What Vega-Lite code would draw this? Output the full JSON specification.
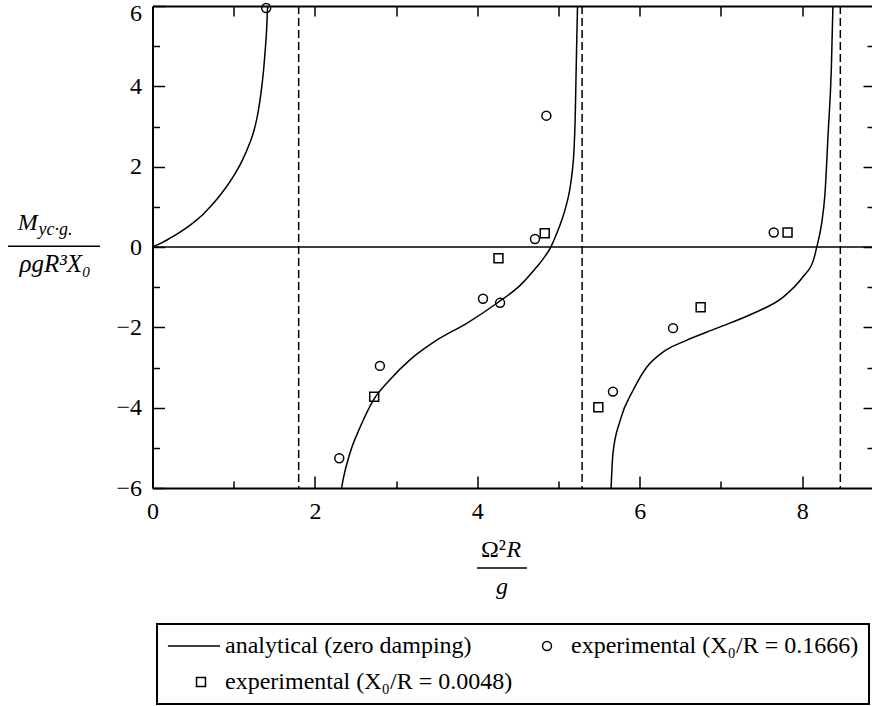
{
  "$schema": "https://vega.github.io/schema/vega-lite/v6.json",
  "width": 719.5,
  "height": 482,
  "autosize": "none",
  "padding": {"left": 152.5, "top": 6, "right": 0, "bottom": 218},
  "background": "white",
  "datasets": {
    "curve": [
      {"b": 1, "x": 0, "y": 0}, {"b": 1, "x": 0.1, "y": 0.09}, {"b": 1, "x": 0.2, "y": 0.2}, {"b": 1, "x": 0.3, "y": 0.32}, {"b": 1, "x": 0.4, "y": 0.45}, {"b": 1, "x": 0.5, "y": 0.6}, {"b": 1, "x": 0.6, "y": 0.77}, {"b": 1, "x": 0.7, "y": 0.98}, {"b": 1, "x": 0.8, "y": 1.21}, {"b": 1, "x": 0.9, "y": 1.47}, {"b": 1, "x": 1.0, "y": 1.77}, {"b": 1, "x": 1.1, "y": 2.13}, {"b": 1, "x": 1.2, "y": 2.6}, {"b": 1, "x": 1.25, "y": 2.9}, {"b": 1, "x": 1.3, "y": 3.35}, {"b": 1, "x": 1.34, "y": 3.9}, {"b": 1, "x": 1.37, "y": 4.45}, {"b": 1, "x": 1.39, "y": 4.95}, {"b": 1, "x": 1.405, "y": 5.4}, {"b": 1, "x": 1.42, "y": 6.1},
      {"b": 2, "x": 2.32, "y": -6.1}, {"b": 2, "x": 2.35, "y": -5.76}, {"b": 2, "x": 2.43, "y": -5.14}, {"b": 2, "x": 2.56, "y": -4.47}, {"b": 2, "x": 2.72, "y": -3.81}, {"b": 2, "x": 2.92, "y": -3.31}, {"b": 2, "x": 3.17, "y": -2.81}, {"b": 2, "x": 3.5, "y": -2.32}, {"b": 2, "x": 3.87, "y": -1.9}, {"b": 2, "x": 4.24, "y": -1.4}, {"b": 2, "x": 4.53, "y": -0.95}, {"b": 2, "x": 4.73, "y": -0.5}, {"b": 2, "x": 4.82, "y": -0.27}, {"b": 2, "x": 4.9, "y": -0.02}, {"b": 2, "x": 4.97, "y": 0.3}, {"b": 2, "x": 5.04, "y": 0.67}, {"b": 2, "x": 5.09, "y": 1.0}, {"b": 2, "x": 5.14, "y": 1.45}, {"b": 2, "x": 5.17, "y": 1.9}, {"b": 2, "x": 5.19, "y": 2.4}, {"b": 2, "x": 5.205, "y": 3.2}, {"b": 2, "x": 5.215, "y": 4.2}, {"b": 2, "x": 5.225, "y": 5.2}, {"b": 2, "x": 5.235, "y": 6.1},
      {"b": 3, "x": 5.645, "y": -6.1}, {"b": 3, "x": 5.67, "y": -5.14}, {"b": 3, "x": 5.76, "y": -4.31}, {"b": 3, "x": 5.92, "y": -3.56}, {"b": 3, "x": 6.09, "y": -2.98}, {"b": 3, "x": 6.29, "y": -2.61}, {"b": 3, "x": 6.58, "y": -2.32}, {"b": 3, "x": 6.95, "y": -2.02}, {"b": 3, "x": 7.4, "y": -1.65}, {"b": 3, "x": 7.77, "y": -1.24}, {"b": 3, "x": 8.01, "y": -0.74}, {"b": 3, "x": 8.14, "y": -0.32}, {"b": 3, "x": 8.18, "y": 0.0}, {"b": 3, "x": 8.24, "y": 0.59}, {"b": 3, "x": 8.28, "y": 1.3}, {"b": 3, "x": 8.32, "y": 2.83}, {"b": 3, "x": 8.36, "y": 4.49}, {"b": 3, "x": 8.38, "y": 6.1}
    ],
    "points": [
      {"series": "experimental (X₀/R = 0.1666)", "x": 1.40, "y": 5.95},
      {"series": "experimental (X₀/R = 0.1666)", "x": 2.30, "y": -5.26},
      {"series": "experimental (X₀/R = 0.1666)", "x": 2.80, "y": -2.96},
      {"series": "experimental (X₀/R = 0.1666)", "x": 4.07, "y": -1.29},
      {"series": "experimental (X₀/R = 0.1666)", "x": 4.28, "y": -1.39},
      {"series": "experimental (X₀/R = 0.1666)", "x": 4.71, "y": 0.2},
      {"series": "experimental (X₀/R = 0.1666)", "x": 4.85, "y": 3.27},
      {"series": "experimental (X₀/R = 0.1666)", "x": 5.67, "y": -3.6},
      {"series": "experimental (X₀/R = 0.1666)", "x": 6.41, "y": -2.02},
      {"series": "experimental (X₀/R = 0.1666)", "x": 7.65, "y": 0.36},
      {"series": "experimental (X₀/R = 0.0048)", "x": 2.73, "y": -3.73},
      {"series": "experimental (X₀/R = 0.0048)", "x": 4.26, "y": -0.28},
      {"series": "experimental (X₀/R = 0.0048)", "x": 4.83, "y": 0.34},
      {"series": "experimental (X₀/R = 0.0048)", "x": 5.49, "y": -3.99},
      {"series": "experimental (X₀/R = 0.0048)", "x": 6.75, "y": -1.5},
      {"series": "experimental (X₀/R = 0.0048)", "x": 7.82, "y": 0.36}
    ],
    "asymptotes": [{"x": 1.8}, {"x": 5.29}, {"x": 8.47}],
    "one": [{}]
  },
  "layer": [
    {
      "data": {"name": "asymptotes"},
      "mark": {"type": "rule", "color": "black", "strokeWidth": 1.5, "strokeDash": [8, 4]},
      "encoding": {
        "x": {"field": "x", "type": "quantitative", "axis": {"orient": "bottom", "values": [1, 3, 5, 7], "tickSize": -7, "labels": false, "domain": false, "title": null}}
      }
    },
    {
      "data": {"name": "one"},
      "mark": {"type": "rule", "color": "black", "strokeWidth": 1.5},
      "encoding": {
        "y": {"datum": 0, "type": "quantitative", "axis": {"orient": "left", "values": [-5, -3, -1, 1, 3, 5], "tickSize": -7, "labels": false, "domain": false, "title": null}}
      }
    },
    {
      "data": {"name": "curve"},
      "mark": {"type": "line", "color": "black", "strokeWidth": 1.5, "interpolate": "monotone", "clip": true},
      "encoding": {
        "x": {"field": "x", "type": "quantitative", "scale": {"domain": [0, 8.86], "nice": false, "zero": false}, "axis": {"orient": "bottom", "values": [0, 2, 4, 6, 8], "tickSize": -12, "labelPadding": 23, "title": null}},
        "y": {"field": "y", "type": "quantitative", "scale": {"domain": [-6, 6], "nice": false, "zero": false}, "axis": {"orient": "left", "values": [-6, -4, -2, 0, 2, 4, 6], "tickSize": -12, "labelPadding": 23, "title": null, "labelOffset": {"condition": {"test": "datum.value === 6", "value": 7}, "value": 0}}},
        "detail": {"field": "b", "type": "nominal"}
      }
    },
    {
      "data": {"name": "points"},
      "mark": {"type": "point", "filled": false, "color": "black", "strokeWidth": 1.5, "size": 80, "opacity": 1},
      "encoding": {
        "x": {"field": "x", "type": "quantitative", "axis": {"orient": "top", "values": [1, 2, 3, 4, 5, 6, 7, 8], "tickSize": -10, "labels": false, "title": null}},
        "y": {"field": "y", "type": "quantitative", "axis": {"orient": "right", "values": [-4, -2, 0, 2, 4], "tickSize": -9, "labels": false, "domain": false, "title": null}},
        "shape": {
          "field": "series", "type": "nominal",
          "scale": {"domain": ["analytical (zero damping)", "experimental (X₀/R = 0.1666)", "experimental (X₀/R = 0.0048)"], "range": ["M-7.4,0H4.25", "circle", "square"]},
          "legend": {
            "title": null, "orient": "none", "legendX": 4.5, "legendY": 618, "columns": 2, "direction": "horizontal",
            "padding": 10, "strokeColor": "black", "columnPadding": 0, "rowPadding": 12,
            "symbolSize": 80, "symbolStrokeWidth": 1.5, "symbolStrokeColor": "black", "symbolFillColor": "transparent", "symbolOffset": 22, "labelOffset": 12,
            "labelFont": "Liberation Serif", "labelFontSize": 24, "labelColor": "black", "labelLimit": 0
          }
        }
      }
    },
    {
      "data": {"name": "one"},
      "mark": {"type": "text", "text": "M", "font": "Liberation Serif", "fontStyle": "italic", "fontSize": 24, "align": "left", "baseline": "alphabetic", "color": "black"},
      "encoding": {
        "x": {"datum": -1.66, "type": "quantitative", "axis": null},
        "y": {"datum": 0.423, "type": "quantitative", "axis": {"orient": "right", "values": [-5, -3, -1, 1, 3, 5], "tickSize": -5, "labels": false, "domain": false, "title": null}}
      }
    },
    {
      "data": {"name": "one"},
      "mark": {"type": "text", "text": "yc·g.", "font": "Liberation Serif", "fontStyle": "italic", "fontSize": 18, "align": "left", "baseline": "alphabetic", "color": "black"},
      "encoding": {"x": {"datum": -1.405, "type": "quantitative", "axis": null}, "y": {"datum": 0.299, "type": "quantitative", "axis": null}}
    },
    {
      "data": {"name": "one"},
      "mark": {"type": "rule", "color": "black", "strokeWidth": 1.5},
      "encoding": {"x": {"datum": -1.78, "type": "quantitative", "axis": null}, "x2": {"datum": -0.647}, "y": {"datum": 0.02, "type": "quantitative", "axis": null}}
    },
    {
      "data": {"name": "one"},
      "mark": {"type": "text", "text": "ρgR³X₀", "font": "Liberation Serif", "fontStyle": "italic", "fontSize": 25, "align": "center", "baseline": "alphabetic", "color": "black"},
      "encoding": {"x": {"datum": -1.2, "type": "quantitative", "axis": null}, "y": {"datum": -0.62, "type": "quantitative", "axis": null}}
    },
    {
      "data": {"name": "one"},
      "mark": {"type": "text", "text": "Ω²", "font": "Liberation Serif", "fontSize": 24, "align": "right", "baseline": "alphabetic", "color": "black"},
      "encoding": {"x": {"datum": 4.353, "type": "quantitative", "axis": null}, "y": {"datum": -7.717, "type": "quantitative", "axis": null}}
    },
    {
      "data": {"name": "one"},
      "mark": {"type": "text", "text": "R", "font": "Liberation Serif", "fontStyle": "italic", "fontSize": 24, "align": "left", "baseline": "alphabetic", "color": "black"},
      "encoding": {"x": {"datum": 4.36, "type": "quantitative", "axis": null}, "y": {"datum": -7.717, "type": "quantitative", "axis": null}}
    },
    {
      "data": {"name": "one"},
      "mark": {"type": "rule", "color": "black", "strokeWidth": 1.5},
      "encoding": {"x": {"datum": 3.996, "type": "quantitative", "axis": null}, "x2": {"datum": 4.612}, "y": {"datum": -7.991, "type": "quantitative", "axis": null}}
    },
    {
      "data": {"name": "one"},
      "mark": {"type": "text", "text": "g", "font": "Liberation Serif", "fontStyle": "italic", "fontSize": 24, "align": "center", "baseline": "alphabetic", "color": "black"},
      "encoding": {"x": {"datum": 4.305, "type": "quantitative", "axis": null}, "y": {"datum": -8.65, "type": "quantitative", "axis": null}}
    }
  ],
  "resolve": {"axis": {"x": "independent", "y": "independent"}},
  "config": {
    "view": {"stroke": null},
    "font": "Liberation Serif",
    "axis": {"labelFont": "Liberation Serif", "labelFontSize": 24, "labelColor": "black", "tickColor": "black", "domainColor": "black", "tickWidth": 1.5, "domainWidth": 2, "grid": false, "labelFlush": false, "labelOverlap": false},
    "legend": {"strokeWidth": 2}
  }
}
